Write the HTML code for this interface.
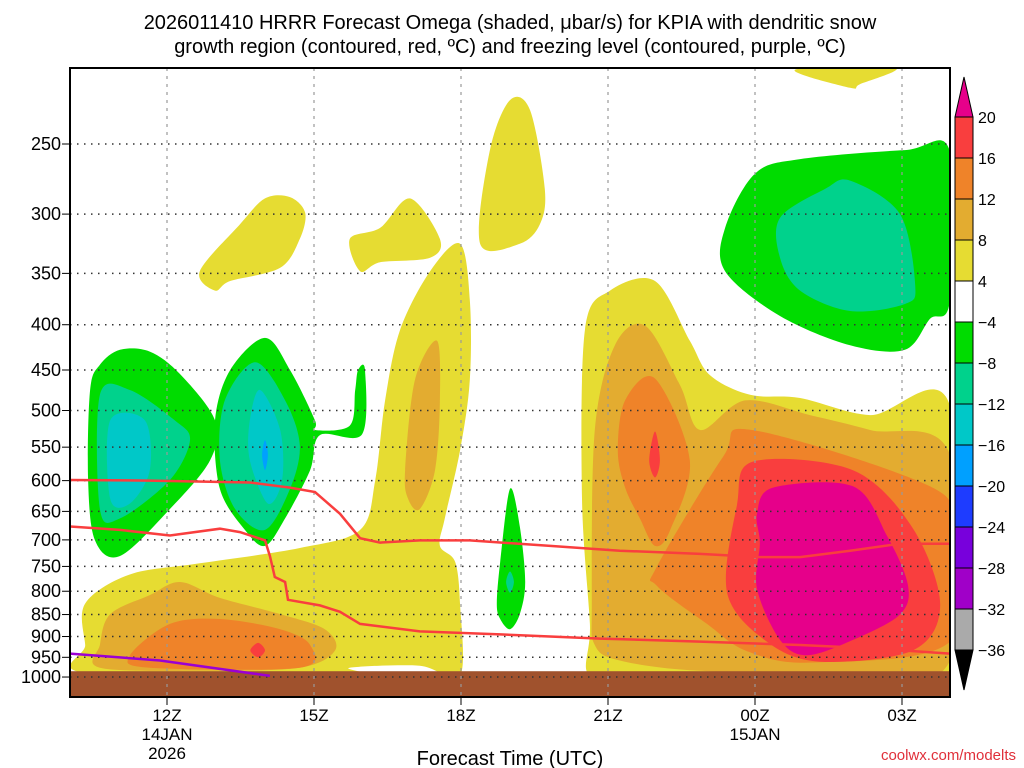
<!DOCTYPE html>
<html><head><meta charset="utf-8"><style>
html,body{margin:0;padding:0;background:#fff;}
svg{display:block;font-family:"Liberation Sans",sans-serif;}
</style></head><body>
<svg id="chart" width="1024" height="768" viewBox="0 0 1024 768" xmlns="http://www.w3.org/2000/svg">
<text x="510" y="29" font-size="20" text-anchor="middle" fill="#000">2026011410 HRRR Forecast Omega (shaded, μbar/s) for KPIA with dendritic snow</text>
<text x="510" y="53" font-size="20" text-anchor="middle" fill="#000">growth region (contoured, red, ºC) and freezing level (contoured, purple, ºC)</text>
<g id="fills"></g>
<g id="grid"></g>
<g id="lines"></g>
<g id="axes"></g>
<g id="cbar"></g>
<text x="510" y="765" font-size="20" text-anchor="middle">Forecast Time (UTC)</text>
<text x="1016" y="760" font-size="15" text-anchor="end" fill="#e0303a">coolwx.com/modelts</text>
</svg>
<script>
const pTicks=[250,300,350,400,450,500,550,600,650,700,750,800,850,900,950,1000];
const hTicks=[0,3,6,9,12,15];
const hLabels=["12Z","15Z","18Z","21Z","00Z","03Z"];
const hSub=[["14JAN","2026"],[],[],[],["15JAN"],[]];
const cbLevels=[20,16,12,8,4,-4,-8,-12,-16,-20,-24,-28,-32,-36];
const cbColors=["#f93e3e","#ef8329","#e3ac30","#e6dc32","#ffffff","#00dc00","#00d28c","#00c8c8","#00a0ff","#1e3cff","#7800dc","#a000c8","#aaaaaa"];
// shaded regions: points [hour from 12Z, hPa]
const yellowRegions=[
 [[0.67,348],[1.49,308],[2.0,288],[2.51,287],[2.82,299],[2.71,320],[2.31,345],[1.29,357],[0.98,366]],
 [[3.73,320],[4.35,311],[4.96,288],[5.57,320],[5.37,336],[4.35,340],[3.94,348]],
 [[6.39,324],[6.59,254],[7.0,223],[7.41,229],[7.71,281],[7.61,308],[7.2,324]],
 [[12.82,206],[13.94,216],[14.14,214],[14.86,205]],
 [[-1.67,826],[-0.76,766],[0.67,744],[2.71,715],[3.94,682],[4.25,599],[4.45,487],[4.76,405],[5.37,348],[5.98,324],[6.18,375],[6.18,462],[5.98,555],[5.67,662],[5.57,711],[5.88,741],[5.98,826],[5.98,997],[5.16,971],[3.73,976],[3.73,997],[-1.57,992],[-1.67,920]],
 [[8.63,997],[8.63,871],[8.47,629],[8.53,405],[9.04,366],[9.96,357],[10.67,417],[11.08,456],[11.9,480],[12.92,484],[14.35,506],[15.98,494],[15.98,1010],[12.92,1002],[9.86,997]]
];
const gold8Regions=[
 [[-1.37,920],[-1.16,849],[-0.35,808],[0.27,781],[1.08,814],[2.31,849],[3.22,883],[3.43,933],[2.71,976],[0.67,984],[-1.37,976]],
 [[4.86,584],[5.06,462],[5.51,417],[5.57,487],[5.47,584],[5.16,646],[4.92,629]],
 [[8.67,826],[8.73,526],[9.14,422],[9.76,401],[10.47,468],[10.88,526],[11.8,487],[13.12,506],[14.35,526],[15.98,561],[15.98,958],[13.94,989],[10.88,984],[9.24,958],[8.73,920]]
];
const orange12Regions=[
 [[-0.76,946],[0.06,871],[1.08,860],[2.31,883],[2.92,920],[2.71,976],[-0.35,976]],
 [[9.2,555],[9.35,487],[9.96,460],[10.67,569],[10.27,682],[9.96,711],[9.65,662],[9.35,611]],
 [[10.0,750],[11.35,564],[11.94,526],[15.57,609],[15.98,682],[15.98,912],[13.18,963],[11.84,935],[11.02,871],[10.0,789]]
];
const red16Regions=[
 [[9.96,528],[10.06,569],[9.96,595],[9.84,569]],
 [[11.96,571],[14.0,584],[15.22,679],[15.78,828],[15.22,933],[13.33,961],[12.24,912],[11.43,803],[11.63,640]],
 [[1.7,933],[1.86,915],[2.0,933],[1.86,950]]
];
const magenta20Regions=[
 [[12.04,654],[12.37,611],[14.0,609],[14.69,692],[15.12,787],[14.96,850],[14.0,908],[13.06,945],[12.51,908],[12.04,795],[12.1,706]]
];
const green4Regions=[
 [[-0.96,427],[-0.35,429],[0.27,455],[0.98,513],[0.88,569],[0.06,646],[-0.96,730],[-1.47,701],[-1.61,599],[-1.57,474],[-1.37,444]],
 [[2.0,414],[2.51,450],[3.02,513],[3.02,526],[3.73,520],[3.84,474],[3.9,450],[4.04,450],[3.98,532],[3.12,533],[2.92,584],[2.41,662],[2.0,711],[1.59,682],[1.08,613],[0.98,513],[1.29,450]],
 [[6.73,826],[6.8,741],[7.0,613],[7.2,676],[7.31,781],[7.2,849],[7.0,883],[6.8,860]],
 [[11.39,311],[12.0,270],[12.92,260],[15.06,254],[15.98,255],[15.98,375],[15.57,394],[15.06,427],[13.94,422],[12.51,391],[11.39,348]]
];
const teal8Regions=[
 [[-1.37,480],[-0.76,474],[0.16,513],[0.47,540],[0.06,599],[-0.96,662],[-1.37,646]],
 [[1.8,441],[2.41,487],[2.71,547],[2.51,613],[2.0,682],[1.39,646],[1.08,569],[1.18,487]],
 [[7.0,760],[7.08,781],[7.0,803],[6.92,781]],
 [[12.51,303],[13.43,281],[13.94,275],[14.96,300],[15.27,361],[15.06,379],[13.94,386],[12.92,366],[12.51,336]]
];
const cyan12Regions=[
 [[-1.16,513],[-0.45,513],[-0.35,584],[-0.76,637],[-1.16,629]],
 [[1.9,474],[2.31,526],[2.35,599],[2.06,637],[1.69,569],[1.69,513]]
];
const blue16Regions=[
 [[2.0,540],[2.06,561],[2.0,584],[1.94,561]]
];
const dgzUpper=[[-1.98,599],[-0.35,600],[1.69,603],[2.51,611],[3.02,618],[3.53,654],[3.94,697],[4.35,705],[5.16,701],[6.18,701],[7.82,711],[9.24,720],[10.88,726],[12.1,732],[12.92,732],[13.94,720],[14.96,707],[15.98,707]];
const dgzLower=[[-1.98,676],[-0.96,682],[0.06,692],[1.08,680],[1.49,686],[2.0,701],[2.1,730],[2.2,771],[2.41,781],[2.47,818],[3.12,830],[3.53,844],[3.94,871],[5.16,888],[6.8,895],[8.84,905],[10.88,912],[12.92,920],[14.35,928],[15.98,941]];
const freezing=[[-1.98,941],[-0.14,958],[2.1,997]];
const groundP=985;

const X0=70,X1=950,Y0=68,Y1=697;
const xs=h=>167+49*h;
const ys=p=>144+384.5*Math.log(p/250);
const NS="http://www.w3.org/2000/svg";
function mk(tag,parent){const e=document.createElementNS(NS,tag);parent.appendChild(e);return e;}
const fills=document.getElementById('fills');
const clip=mk('clipPath',document.getElementById('chart'));clip.setAttribute('id','pc');
const cr=mk('rect',clip);cr.setAttribute('x',X0);cr.setAttribute('y',Y0);cr.setAttribute('width',X1-X0);cr.setAttribute('height',Y1-Y0);
fills.setAttribute('clip-path','url(#pc)');
const ptsStr=a=>a.map(q=>xs(q[0]).toFixed(1)+','+ys(q[1]).toFixed(1)).join(' ');
function smoothPath(a){const P=a.map(q=>[xs(q[0]),ys(q[1])]);const n=P.length;const t=0.16;
 let d='M'+P[0][0].toFixed(1)+','+P[0][1].toFixed(1);
 for(let i=0;i<n;i++){const p0=P[(i-1+n)%n],p1=P[i],p2=P[(i+1)%n],p3=P[(i+2)%n];
  const c1=[p1[0]+(p2[0]-p0[0])*t,p1[1]+(p2[1]-p0[1])*t],c2=[p2[0]-(p3[0]-p1[0])*t,p2[1]-(p3[1]-p1[1])*t];
  d+=' C'+c1[0].toFixed(1)+','+c1[1].toFixed(1)+' '+c2[0].toFixed(1)+','+c2[1].toFixed(1)+' '+p2[0].toFixed(1)+','+p2[1].toFixed(1);}
 return d+'Z';}
const layers=[["#e6dc32",yellowRegions,"omega-4-8"],["#e3ac30",gold8Regions,"omega-8-12"],["#ef8329",orange12Regions,"omega-12-16"],["#f93e3e",red16Regions,"omega-16-20"],["#e6008a",magenta20Regions,"omega-above-20"],["#00dc00",green4Regions,"omega-minus4-8"],["#00d28c",teal8Regions,"omega-minus8-12"],["#00c8c8",cyan12Regions,"omega-minus12-16"],["#00a0ff",blue16Regions,"omega-minus16-20"]];
layers.forEach(L=>{L[1].forEach(r=>{const pg=mk('path',fills);


pg.setAttribute('d',smoothPath(r));pg.setAttribute('fill',L[0]);});});
const gr=mk('rect',fills);


gr.setAttribute('x',X0);gr.setAttribute('y',ys(groundP));gr.setAttribute('width',X1-X0);gr.setAttribute('height',Y1-ys(groundP));gr.setAttribute('fill','#a0522d');

const grid=document.getElementById('grid'),axes=document.getElementById('axes');
pTicks.forEach(p=>{const y=ys(p);
 const l=mk('line',grid);
 
 
 l.setAttribute('x1',X0);l.setAttribute('x2',X1);l.setAttribute('y1',y);l.setAttribute('y2',y);l.setAttribute('stroke','#333');l.setAttribute('stroke-width','1.5');l.setAttribute('stroke-dasharray','1.5,5.5');
 const t=mk('line',axes);t.setAttribute('x1',X0-8);t.setAttribute('x2',X0);t.setAttribute('y1',y);t.setAttribute('y2',y);t.setAttribute('stroke','#000');
 const tx=mk('text',axes);
 
 
 tx.setAttribute('x',X0-9);tx.setAttribute('y',y+6);tx.setAttribute('font-size','18');tx.setAttribute('text-anchor','end');tx.textContent=p;});
hTicks.forEach((h,i)=>{const x=xs(h);
 const l=mk('line',grid);
 
 
 l.setAttribute('x1',x);l.setAttribute('x2',x);l.setAttribute('y1',Y0);l.setAttribute('y2',Y1);l.setAttribute('stroke','#999');l.setAttribute('stroke-width','1.2');l.setAttribute('stroke-dasharray','3,5');
 const t=mk('line',axes);t.setAttribute('x1',x);t.setAttribute('x2',x);t.setAttribute('y1',Y1);t.setAttribute('y2',Y1+8);t.setAttribute('stroke','#000');
 [hLabels[i]].concat(hSub[i]).forEach((s,j)=>{const tx=mk('text',axes);
 
 
 tx.setAttribute('x',x);tx.setAttribute('y',Y1+24+j*19);tx.setAttribute('font-size','17');tx.setAttribute('text-anchor','middle');tx.textContent=s;});});
const fr=mk('rect',axes);


fr.setAttribute('x',X0);fr.setAttribute('y',Y0);fr.setAttribute('width',X1-X0);fr.setAttribute('height',Y1-Y0);fr.setAttribute('fill','none');fr.setAttribute('stroke','#000');fr.setAttribute('stroke-width','2');

const lines=document.getElementById('lines');lines.setAttribute('clip-path','url(#pc)');
[[dgzUpper,'#f93e3e','dgz-upper-line'],[dgzLower,'#f93e3e','dgz-lower-line'],[freezing,'#9b00d2','freezing-level-line']].forEach(L=>{
 const pl=mk('polyline',lines);
 
 
 pl.setAttribute('points',ptsStr(L[0]));pl.setAttribute('fill','none');pl.setAttribute('stroke',L[1]);pl.setAttribute('stroke-width','2.5');});

const cb=document.getElementById('cbar');const cx=955,cw=18,ctop=117,step=41;
cbColors.forEach((c,i)=>{const r=mk('rect',cb);
 
 
 r.setAttribute('x',cx);r.setAttribute('y',ctop+i*step);r.setAttribute('width',cw);r.setAttribute('height',step);r.setAttribute('fill',c);r.setAttribute('stroke','#000');r.setAttribute('stroke-width','1');});
const cbot=ctop+cbColors.length*step;
const tu=mk('polygon',cb);


tu.setAttribute('points',`${cx},${ctop} ${cx+cw},${ctop} ${cx+cw/2},${ctop-40}`);tu.setAttribute('fill','#e6008a');tu.setAttribute('stroke','#000');
const td=mk('polygon',cb);


td.setAttribute('points',`${cx},${cbot} ${cx+cw},${cbot} ${cx+cw/2},${cbot+40}`);td.setAttribute('fill','#000');td.setAttribute('stroke','#000');
cbLevels.forEach((v,i)=>{const t=mk('text',cb);
 
 
 t.setAttribute('x',cx+cw+5);t.setAttribute('y',ctop+i*step+6);t.setAttribute('font-size','16');t.textContent=v<0?'\u2212'+(-v):v;});
</script>
</body></html>
